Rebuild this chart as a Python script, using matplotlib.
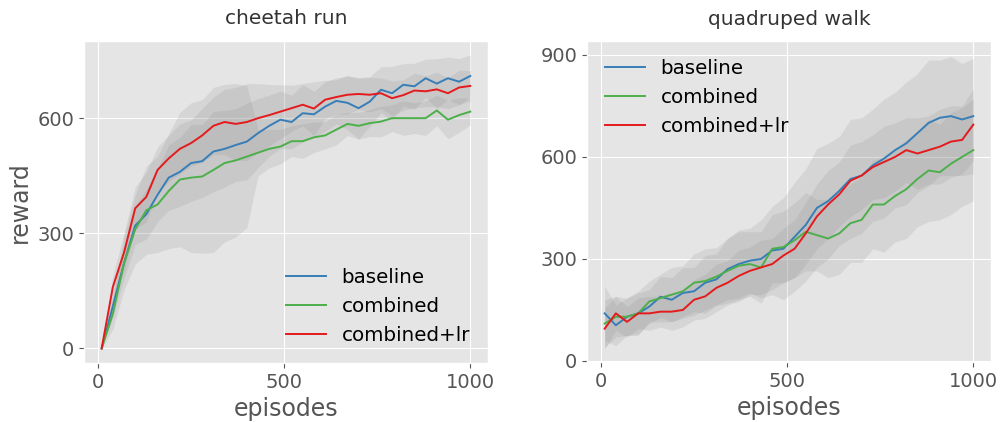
import numpy as np
import matplotlib
matplotlib.use("Agg")
import matplotlib.pyplot as plt

plt.style.use("ggplot")

episodes = [10, 40, 70, 100, 130, 160, 190, 220, 250, 280, 310, 340, 370, 400, 430, 460, 490,
            520, 550, 580, 610, 640, 670, 700, 730, 760, 790, 820, 850, 880, 910, 940, 970, 1000]
labels = ["baseline", "combined", "combined+lr"]
colors = ["#377eb8", "#4daf4a", "#e41a1c"]

# cheetah run
cheetah_baseline = [0, 110, 222, 320, 350, 400, 445, 460, 483, 488, 513, 520, 530, 539, 561, 580, 596,
                    590, 613, 610, 630, 645, 640, 626, 643, 674, 665, 687, 683, 704, 690, 704, 695, 710]
cheetah_combined = [0, 90, 222, 310, 360, 375, 410, 440, 445, 448, 465, 483, 490, 500, 510, 520, 526,
                    540, 540, 550, 555, 570, 585, 580, 587, 591, 600, 600, 600, 600, 620, 596, 608, 617]
cheetah_lr = [0, 160, 250, 365, 395, 465, 495, 520, 535, 555, 580, 590, 585, 590, 600, 608, 617,
              626, 635, 625, 648, 655, 661, 663, 661, 665, 652, 660, 672, 670, 675, 665, 680, 684]
cheetah_baseline_std = [0, 30, 40, 50, 65, 70, 85, 90, 100, 95, 105, 100, 95, 100, 90, 80, 75,
                        70, 75, 60, 65, 60, 70, 80, 65, 60, 70, 55, 60, 50, 65, 55, 60, 55]
cheetah_combined_std = [0, 40, 70, 90, 115, 125, 150, 175, 195, 200, 215, 205, 200, 185, 60, 50, 45,
                        40, 45, 40, 35, 40, 30, 35, 35, 40, 35, 45, 40, 45, 40, 50, 45, 35]
cheetah_lr_std = [0, 30, 50, 55, 65, 60, 60, 65, 60, 70, 75, 85, 95, 100, 90, 80, 70,
                  60, 55, 70, 50, 45, 50, 40, 45, 40, 45, 40, 45, 40, 45, 40, 45, 40]

# quadruped walk
quad_baseline = [140, 105, 130, 140, 160, 189, 180, 200, 205, 230, 240, 270, 285, 295, 300, 325, 330,
                 365, 400, 450, 470, 500, 535, 545, 575, 595, 620, 640, 670, 700, 715, 720, 710, 720]
quad_combined = [110, 130, 130, 140, 175, 185, 195, 205, 230, 235, 248, 265, 280, 285, 275, 330, 335,
                 355, 380, 370, 360, 375, 405, 415, 460, 460, 485, 505, 535, 560, 555, 580, 600, 620]
quad_lr = [95, 140, 115, 140, 140, 145, 145, 150, 180, 190, 215, 230, 250, 265, 275, 285, 310,
           330, 375, 425, 460, 490, 530, 545, 570, 585, 600, 620, 610, 620, 630, 645, 650, 695]
quad_baseline_std = [80, 60, 55, 60, 50, 60, 65, 75, 70, 80, 75, 90, 100, 95, 115, 130, 150,
                     160, 165, 175, 170, 160, 175, 170, 165, 175, 170, 180, 175, 185, 170, 175, 165, 170]
quad_combined_std = [70, 60, 55, 65, 60, 70, 80, 75, 85, 95, 85, 95, 100, 95, 105, 100, 105,
                     110, 115, 105, 115, 120, 115, 125, 130, 140, 135, 145, 140, 150, 140, 150, 145, 150]
quad_lr_std = [60, 50, 45, 45, 50, 45, 55, 50, 60, 65, 70, 65, 75, 70, 80, 75, 80,
               85, 90, 95, 100, 95, 105, 100, 95, 105, 100, 95, 105, 100, 110, 105, 100, 105]


def draw(ax, means, stds, title, ylim, yticks, legend_loc):
    x = np.array(episodes)
    for m, s in zip(means, stds):
        m, s = np.array(m), np.array(s)
        ax.fill_between(x, m - s, m + s, color="gray", alpha=0.15, linewidth=0)
    for m, c, l in zip(means, colors, labels):
        ax.plot(x, m, color=c, label=l, linewidth=1.4)
    ax.set_title(title, fontsize=14.5, color="#333333", pad=12)
    ax.set_xlabel("episodes", fontsize=17)
    ax.set_ylim(*ylim)
    ax.set_xlim(-37.5, 1047.5)
    ax.set_xticks([0, 500, 1000])
    ax.set_yticks(yticks)
    ax.tick_params(labelsize=14)
    ax.legend(loc=legend_loc, fontsize=14.3, frameon=False)


fig = plt.figure(figsize=(10.01, 4.22), dpi=100)
ax1 = fig.add_axes([0.0839, 0.1398, 0.4036, 0.763])
ax2 = fig.add_axes([0.5864, 0.1422, 0.4036, 0.760])

draw(ax1, [cheetah_baseline, cheetah_combined, cheetah_lr],
     [cheetah_baseline_std, cheetah_combined_std, cheetah_lr_std],
     "cheetah run", (-38, 801), [0, 300, 600], "lower right")
ax1.set_ylabel("reward", fontsize=17)

draw(ax2, [quad_baseline, quad_combined, quad_lr],
     [quad_baseline_std, quad_combined_std, quad_lr_std],
     "quadruped walk", (-3, 940), [0, 300, 600, 900], "upper left")

plt.savefig("out.png", dpi=100)
